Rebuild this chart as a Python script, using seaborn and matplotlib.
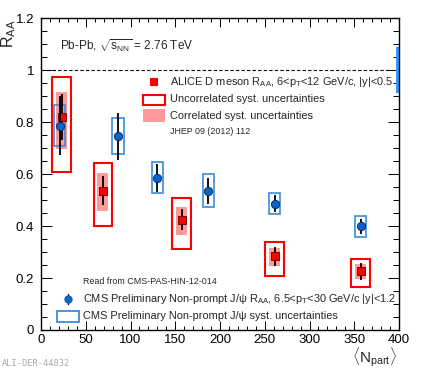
import numpy as np
import pandas as pd
import matplotlib
matplotlib.use("Agg")
import matplotlib.pyplot as plt
import seaborn as sns
from matplotlib.patches import Rectangle
from matplotlib.ticker import MultipleLocator, FixedLocator, FixedFormatter

# ---------------- data ----------------
d_npart = [23, 69, 157, 261, 357]
d_raa = [0.82, 0.537, 0.424, 0.283, 0.226]
d_stat = [0.09, 0.055, 0.04, 0.035, 0.033]
d_unc_up = [0.154, 0.105, 0.085, 0.057, 0.047]
d_unc_dn = [0.212, 0.136, 0.112, 0.074, 0.059]
d_cor_up = [0.097, 0.067, 0.050, 0.032, 0.027]
d_cor_dn = [0.125, 0.077, 0.059, 0.036, 0.030]

j_npart = [21, 86, 130, 187, 261, 357]
j_raa = [0.787, 0.746, 0.586, 0.537, 0.487, 0.399]
j_stat = [0.115, 0.09, 0.055, 0.05, 0.032, 0.03]
j_syst = [0.08, 0.07, 0.06, 0.062, 0.04, 0.04]

global_center = 1.0
global_unc = 0.088

x_ticks = [0, 50, 100, 150, 200, 250, 300, 350, 400]
x_tick_labels = ["0", "50", "100", "150", "200", "250", "300", "350", "400"]
y_ticks = [0, 0.2, 0.4, 0.6, 0.8, 1.0, 1.2]
y_tick_labels = ["0", "0.2", "0.4", "0.6", "0.8", "1", "1.2"]

# ---------------- style ----------------
sns.set_theme(style="ticks")
plt.rcParams["font.family"] = ["Liberation Sans", "DejaVu Sans"]
plt.rcParams["mathtext.fontset"] = "custom"
plt.rcParams["mathtext.rm"] = "Liberation Sans"
plt.rcParams["mathtext.it"] = "Liberation Sans:italic"
plt.rcParams["mathtext.bf"] = "Liberation Sans:bold"

RED = "#ff0000"
PINK = "#ff9a9a"
BLUE_M = "#0b62c4"
BLUE_B = "#3a8ddc"
BLUE_G = "#3399ff"

W, H = 424, 368
fig = plt.figure(figsize=(W / 100, H / 100), dpi=100)
L, R, T, B = 41, 399, 18.3, 330
ax = fig.add_axes([L / W, 1 - B / H, (R - L) / W, (B - T) / H])


def px(x, y):
    return ((x - L) / (R - L), (B - y) / (B - T))


df_d = pd.DataFrame({"npart": d_npart, "raa": d_raa, "stat": d_stat,
                     "uu": d_unc_up, "ud": d_unc_dn, "cu": d_cor_up, "cd": d_cor_dn})
df_j = pd.DataFrame({"npart": j_npart, "raa": j_raa, "stat": j_stat, "syst": j_syst})

# correlated syst (filled pink)
ax.bar(df_d["npart"], df_d["cu"] + df_d["cd"], bottom=df_d["raa"] - df_d["cd"],
       width=12.3, color=PINK, linewidth=0, zorder=1)
# uncorrelated syst (red outline)
ax.bar(df_d["npart"], df_d["uu"] + df_d["ud"], bottom=df_d["raa"] - df_d["ud"],
       width=20.6, fill=False, edgecolor=RED, linewidth=1.5, zorder=2)
# CMS syst boxes
ax.bar(df_j["npart"], 2 * df_j["syst"], bottom=df_j["raa"] - df_j["syst"],
       width=12.7, fill=False, edgecolor=BLUE_B, linewidth=1.2, zorder=3)
# global uncertainty band
ax.bar([398.4], [2 * global_unc], bottom=[global_center - global_unc], width=3.2,
       color=BLUE_G, linewidth=0, zorder=2)

# stat error bars
ax.errorbar(df_d["npart"], df_d["raa"], yerr=df_d["stat"], fmt="none",
            ecolor="black", elinewidth=1.3, capsize=0, zorder=4)
ax.errorbar(df_j["npart"], df_j["raa"], yerr=df_j["stat"], fmt="none",
            ecolor="black", elinewidth=1.3, capsize=0, zorder=6)

sns.scatterplot(data=df_d, x="npart", y="raa", marker="s", s=30, color=RED,
                edgecolor="#600000", linewidth=0.6, ax=ax, zorder=5, legend=False)
sns.scatterplot(data=df_j, x="npart", y="raa", marker="o", s=36, color=BLUE_M,
                edgecolor="#062a55", linewidth=0.6, ax=ax, zorder=7, legend=False)

# reference line
ax.axhline(1.0, color="black", linestyle=(0, (3, 2)), linewidth=0.8, zorder=1)

# axes
ax.set_xlim(0, 400)
ax.set_ylim(0, 1.2)
ax.xaxis.set_major_locator(FixedLocator(x_ticks))
ax.xaxis.set_major_formatter(FixedFormatter(x_tick_labels))
ax.yaxis.set_major_locator(FixedLocator(y_ticks))
ax.yaxis.set_major_formatter(FixedFormatter(y_tick_labels))
ax.xaxis.set_minor_locator(MultipleLocator(10))
ax.yaxis.set_minor_locator(MultipleLocator(0.05))
ax.tick_params(which="both", direction="in", top=True, right=True, width=0.7,
               colors="black", labelsize=9.5)
ax.tick_params(axis="x", which="major", length=6.5, pad=3)
ax.tick_params(axis="x", which="minor", length=3)
ax.tick_params(axis="y", which="major", length=8, pad=5)
ax.tick_params(axis="y", which="minor", length=4)
for s in ax.spines.values():
    s.set_linewidth(1.0)
    s.set_color("black")
ax.set_xlabel("")
ax.set_ylabel("")

fig.text(8.5 / W, 1 - 19 / H, r"$\mathregular{R_{AA}}$", rotation=90, ha="center",
         va="top", fontsize=11.5)
fig.text(397 / W, 1 - 357 / H, r"$\langle\mathregular{N_{part}}\rangle$", ha="right",
         va="center", fontsize=11)

ax.text(*px(60, 46), r"Pb-Pb, $\sqrt{\mathregular{s_{NN}}}$ = 2.76 TeV", transform=ax.transAxes,
        ha="left", va="center", fontsize=8.5)

FS = 7.9
# legend 1 (ALICE)
ax.scatter(*px(153.5, 82), transform=ax.transAxes, marker="s", s=30, color=RED,
           linewidth=0, zorder=8, clip_on=False)
ax.add_patch(Rectangle(px(143.3, 104.7), 22 / (R - L), 9.4 / (B - T), transform=ax.transAxes,
                       fill=False, edgecolor=RED, linewidth=1.5))
ax.add_patch(Rectangle(px(143.3, 122.3), 22 / (R - L), 13.3 / (B - T), transform=ax.transAxes,
                       facecolor=PINK, linewidth=0))
ax.text(*px(169.5, 82), r"ALICE D meson $\mathregular{R_{AA}}$, 6<$\mathregular{p_{T}}$<12 GeV/c, |y|<0.5",
        transform=ax.transAxes, ha="left", va="center", fontsize=FS)
ax.text(*px(169.5, 99.5), "Uncorrelated syst. uncertainties", transform=ax.transAxes,
        ha="left", va="center", fontsize=FS)
ax.text(*px(169.5, 115.7), "Correlated syst. uncertainties", transform=ax.transAxes,
        ha="left", va="center", fontsize=FS)
ax.text(*px(170, 131.3), "JHEP 09 (2012) 112", transform=ax.transAxes,
        ha="left", va="center", fontsize=6.4)

# legend 2 (CMS)
ax.text(*px(82.7, 281.7), "Read from CMS-PAS-HIN-12-014", transform=ax.transAxes,
        ha="left", va="center", fontsize=6.4)
lx, ly = px(68.3, 299.3)
ax.plot([lx, lx], [ly - 5 / (B - T), ly + 5 / (B - T)], transform=ax.transAxes,
        color="black", linewidth=1.0)
ax.scatter(lx, ly, transform=ax.transAxes, marker="o", s=36, color=BLUE_M,
           linewidth=0, zorder=8)
ax.text(*px(83.3, 298.7),
        r"CMS Preliminary Non-prompt J/ψ $\mathregular{R_{AA}}$, 6.5<$\mathregular{p_{T}}$<30 GeV/c |y|<1.2",
        transform=ax.transAxes, ha="left", va="center", fontsize=FS)
ax.add_patch(Rectangle(px(57.3, 321.7), 21.7 / (R - L), 10.7 / (B - T), transform=ax.transAxes,
                       fill=False, edgecolor=BLUE_B, linewidth=1.3))
ax.text(*px(83.3, 316), "CMS Preliminary Non-prompt J/ψ syst. uncertainties",
        transform=ax.transAxes, ha="left", va="center", fontsize=FS)

fig.text(2 / W, 1 - 363 / H, "ALI-DER-44832", family="DejaVu Sans Mono", fontsize=6.2,
         color="#a8a8a8", ha="left", va="center")

fig.savefig("out.png", dpi=100)
